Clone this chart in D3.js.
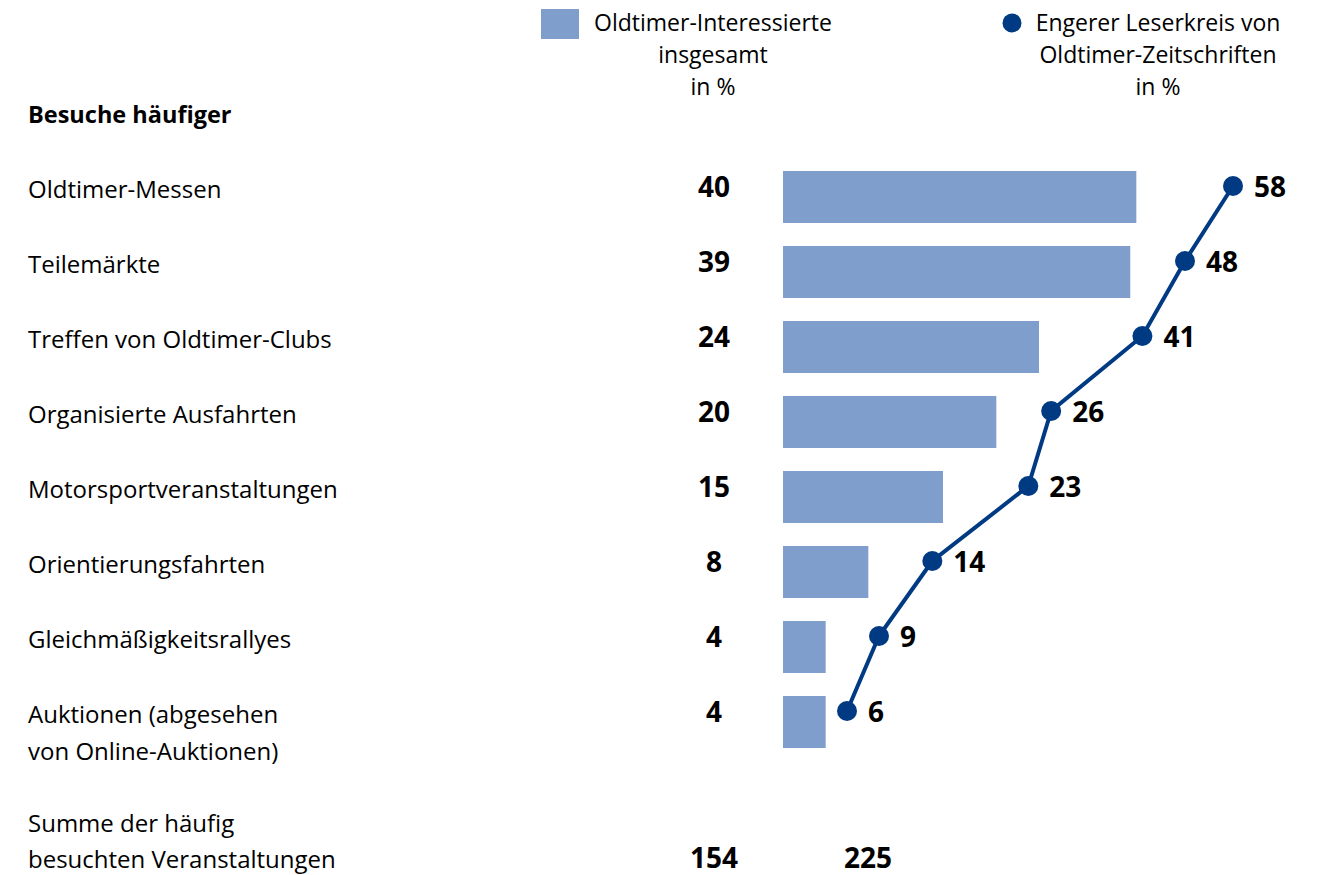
<!DOCTYPE html>
<html lang="de">
<head>
<meta charset="UTF-8">
<title>Oldtimer Veranstaltungen</title>
<style>
    body { margin: 0; background: #fff; }
    text { font-family: "Open Sans", "Noto Sans", sans-serif; fill: #000; }
    .cat { font-size: 24px; }
    .head { font-size: 23.5px; font-weight: bold; }
    .num { font-size: 28px; font-weight: bold; }
    .legend { font-size: 23px; }
    .bar { fill: #809ecb; }
    .line { fill: none; stroke: #003a82; stroke-width: 4; }
    .dot { fill: #003a82; }
</style>
</head>
<body>
<script src="https://d3js.org/d3.v7.min.js"></script>
<script>
// data
var categories = [
    "Oldtimer-Messen",
    "Teilemärkte",
    "Treffen von Oldtimer-Clubs",
    "Organisierte Ausfahrten",
    "Motorsportveranstaltungen",
    "Orientierungsfahrten",
    "Gleichmäßigkeitsrallyes",
    "Auktionen (abgesehen\nvon Online-Auktionen)"
];
var interessierte = [40, 39, 24, 20, 15, 8, 4, 4];   // bars
var leserkreis = [58, 48, 41, 26, 23, 14, 9, 6];     // line
var summen = [154, 225];
var legendBar = ["Oldtimer-Interessierte", "insgesamt", "in %"];
var legendLine = ["Engerer Leserkreis von", "Oldtimer-Zeitschriften", "in %"];

var width = 1321, height = 875;

var svg = d3.select("body").append("svg")
    .attr("width", width)
    .attr("height", height);

// the original graphic compresses the upper range a little
var x = d3.scaleLinear()
    .domain([0, 24, 48, 58])
    .range([783, 1039, 1185, 1233]);

var y = d3.scalePoint()
    .domain(categories)
    .range([186, 711]);

var rows = categories.map(function(c, i) {
    return {cat: c, bar: interessierte[i], line: leserkreis[i]};
});

// legend
svg.append("rect")
    .attr("class", "bar")
    .attr("x", 541).attr("y", 9)
    .attr("width", 38).attr("height", 30);

svg.selectAll(".legBar")
    .data(legendBar)
    .enter().append("text")
    .attr("class", "legend")
    .attr("x", 713)
    .attr("y", function(d, i) { return 31 + i * 32; })
    .attr("text-anchor", "middle")
    .text(function(d) { return d; });

svg.append("circle")
    .attr("class", "dot")
    .attr("cx", 1012).attr("cy", 23).attr("r", 9.5);

svg.selectAll(".legLine")
    .data(legendLine)
    .enter().append("text")
    .attr("class", "legend")
    .attr("x", 1158)
    .attr("y", function(d, i) { return 31 + i * 32; })
    .attr("text-anchor", "middle")
    .text(function(d) { return d; });

// header
svg.append("text")
    .attr("class", "head")
    .attr("x", 28).attr("y", 123)
    .text("Besuche häufiger");

// category labels
var labels = svg.selectAll(".cat")
    .data(rows)
    .enter().append("text")
    .attr("class", "cat")
    .attr("x", 28)
    .attr("y", function(d) { return y(d.cat) + 12; });

labels.selectAll("tspan")
    .data(function(d) { return d.cat.split("\n"); })
    .enter().append("tspan")
    .attr("x", 28)
    .attr("dy", function(d, i) { return i ? 37 : 0; })
    .text(function(d) { return d; });

// bar values
svg.selectAll(".barVal")
    .data(rows)
    .enter().append("text")
    .attr("class", "num")
    .attr("x", 714)
    .attr("y", function(d) { return y(d.cat) + 11; })
    .attr("text-anchor", "middle")
    .text(function(d) { return d.bar; });

// bars
svg.selectAll(".bar.row")
    .data(rows)
    .enter().append("rect")
    .attr("class", "bar row")
    .attr("x", x(0))
    .attr("y", function(d) { return y(d.cat) - 15; })
    .attr("width", function(d) { return x(d.bar) - x(0); })
    .attr("height", 52);

// line
var line = d3.line()
    .x(function(d) { return x(d.line); })
    .y(function(d) { return y(d.cat); });

svg.append("path")
    .datum(rows)
    .attr("class", "line")
    .attr("d", line);

svg.selectAll(".dot.row")
    .data(rows)
    .enter().append("circle")
    .attr("class", "dot row")
    .attr("cx", function(d) { return x(d.line); })
    .attr("cy", function(d) { return y(d.cat); })
    .attr("r", 10);

svg.selectAll(".lineVal")
    .data(rows)
    .enter().append("text")
    .attr("class", "num")
    .attr("x", function(d) { return x(d.line) + 21; })
    .attr("y", function(d) { return y(d.cat) + 11; })
    .text(function(d) { return d.line; });

// totals
svg.append("text")
    .attr("class", "cat")
    .attr("x", 28).attr("y", 832)
    .text("Summe der häufig");
svg.append("text")
    .attr("class", "cat")
    .attr("x", 28).attr("y", 868)
    .text("besuchten Veranstaltungen");

svg.selectAll(".sum")
    .data(summen)
    .enter().append("text")
    .attr("class", "num")
    .attr("x", function(d, i) { return i ? 868 : 714; })
    .attr("y", 868)
    .attr("text-anchor", "middle")
    .text(function(d) { return d; });
</script>
</body>
</html>
